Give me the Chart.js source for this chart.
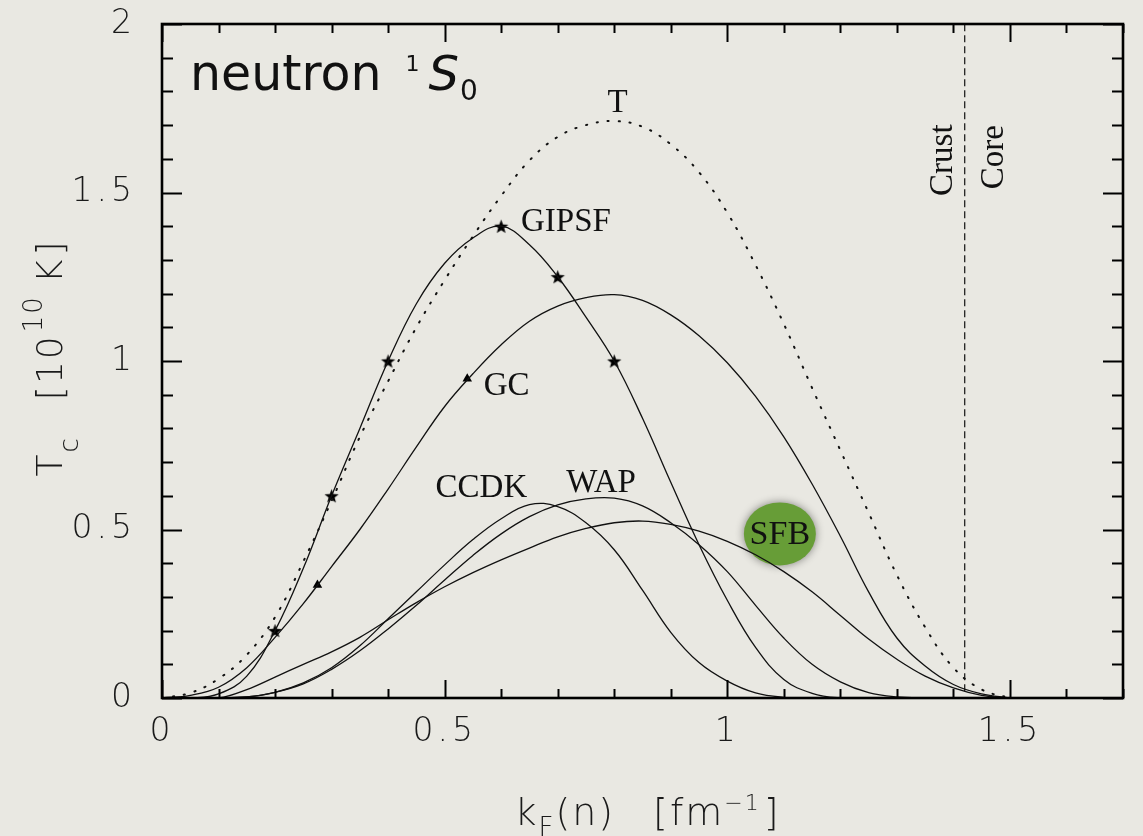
<!DOCTYPE html>
<html>
<head>
<meta charset="utf-8">
<title>neutron 1S0 critical temperature</title>
<script src="https://cdn.jsdelivr.net/npm/chart.js@4.4.1/dist/chart.umd.min.js"></script>
<style>
    html, body { margin: 0; padding: 0; background: #e9e8e2; }
    #wrap { width: 1143px; height: 836px; }
</style>
</head>
<body>
<div id="wrap"><canvas id="gapChart" width="1143" height="836"></canvas></div>
<script>
// Fermi momentum grid [fm^-1]
const kF = [0.00, 0.05, 0.10, 0.15, 0.20, 0.25, 0.30, 0.35, 0.40, 0.45,
            0.50, 0.55, 0.60, 0.65, 0.70, 0.75, 0.80, 0.85, 0.90, 0.95,
            1.00, 1.05, 1.10, 1.15, 1.20, 1.25, 1.30, 1.35, 1.40, 1.45, 1.50];

// Tc [10^10 K] for each gap model
const tcT     = [0, 0.015, 0.057, 0.128, 0.24, 0.405, 0.585, 0.775, 0.94, 1.10,
                 1.24, 1.37, 1.49, 1.595, 1.665, 1.70, 1.712, 1.695, 1.643, 1.56,
                 1.44, 1.285, 1.11, 0.92, 0.735, 0.55, 0.365, 0.21, 0.09, 0.025, 0];
const tcGIPSF = [0, 0, 0.012, 0.065, 0.20, 0.385, 0.60, 0.80, 1.00, 1.17,
                 1.29, 1.365, 1.40, 1.345, 1.25, 1.13, 1.00, 0.83, 0.64, 0.455,
                 0.29, 0.15, 0.055, 0.014, 0, 0, 0, 0, 0, 0, 0];
const tcGC    = [0, 0.008, 0.032, 0.09, 0.18, 0.28, 0.39, 0.50, 0.62, 0.745,
                 0.865, 0.962, 1.048, 1.118, 1.163, 1.188, 1.197, 1.18, 1.137, 1.075,
                 0.995, 0.895, 0.775, 0.635, 0.48, 0.315, 0.178, 0.095, 0.04, 0.012, 0];
const tcCCDK  = [0, 0, 0, 0.003, 0.017, 0.045, 0.09, 0.155, 0.235, 0.315,
                 0.395, 0.47, 0.532, 0.574, 0.568, 0.52, 0.44, 0.32, 0.195, 0.105,
                 0.05, 0.015, 0.002, 0, 0, 0, 0, 0, 0, 0, 0];
const tcWAP   = [0, 0, 0, 0.003, 0.017, 0.042, 0.085, 0.14, 0.205, 0.275,
                 0.35, 0.423, 0.487, 0.538, 0.573, 0.591, 0.593, 0.57, 0.52, 0.455,
                 0.375, 0.275, 0.178, 0.10, 0.048, 0.016, 0.003, 0, 0, 0, 0];
const tcSFB   = [0, 0, 0, 0.025, 0.062, 0.10, 0.137, 0.18, 0.232, 0.283,
                 0.33, 0.372, 0.41, 0.445, 0.478, 0.503, 0.52, 0.525, 0.515, 0.495,
                 0.465, 0.425, 0.375, 0.315, 0.245, 0.175, 0.115, 0.065, 0.03, 0.008, 0];

// marked points on GIPSF (stars) and GC (triangles)
const starK  = [0.2, 0.3, 0.4, 0.6, 0.7, 0.8];
const starTc = [0.2, 0.6, 1.0, 1.4, 1.25, 1.0];
const triK   = [0.275, 0.54];
const triTc  = [0.335, 0.947];

// crust / core boundary
const crustCoreK = 1.42;

const xTickLabels = ['0', '0.5', '1', '1.5'];
const yTickLabels = ['0', '0.5', '1', '1.5', '2'];

const SANS = "'DejaVu Sans', sans-serif";
const SERIF = "'Liberation Serif', 'Times New Roman', serif";
const INK = '#1a1a1a';

function pts(xs, ys) {
    return xs.map((x, i) => ({ x: x, y: ys[i] }));
}

function makeStar(r) {
    const c = document.createElement('canvas');
    const s = Math.ceil(r * 2 + 2);
    c.width = s; c.height = s;
    const g = c.getContext('2d');
    g.translate(s / 2, s / 2 + 0.8);
    g.beginPath();
    for (let i = 0; i < 10; i++) {
        const rad = i % 2 ? r * 0.42 : r;
        const a = -Math.PI / 2 + i * Math.PI / 5;
        g.lineTo(rad * Math.cos(a), rad * Math.sin(a));
    }
    g.closePath();
    g.fillStyle = '#000';
    g.fill();
    return c;
}

function curve(data, extra) {
    return Object.assign({
        data: data,
        showLine: true,
        borderColor: '#111',
        borderWidth: 1.3,
        pointRadius: 0,
        tension: 0.4,
        fill: false
    }, extra || {});
}

// text runs: plain, sub- and superscript pieces laid out one after another
function runFont(r) {
    return `${r.style || ''} ${r.weight || ''} ${r.size}px ${r.family || SANS}`;
}

function runsWidth(ctx, runs) {
    let w = 0;
    runs.forEach(r => {
        ctx.font = runFont(r);
        w += (r.before || 0) + ctx.measureText(r.text).width;
    });
    return w;
}

function drawRuns(ctx, runs, x, y) {
    let cx = x;
    runs.forEach(r => {
        cx += r.before || 0;
        ctx.font = runFont(r);
        ctx.fillText(r.text, cx, y + (r.shift || 0));
        cx += ctx.measureText(r.text).width;
    });
}

// where the model names sit, in data coordinates
const nameSpots = [
    { text: 'T',     k: 0.806, tc: 1.739, align: 'center' },
    { text: 'GIPSF', k: 0.635, tc: 1.385, align: 'left' },
    { text: 'GC',    k: 0.569, tc: 0.899, align: 'left' },
    { text: 'CCDK',  k: 0.484, tc: 0.597, align: 'left' },
    { text: 'WAP',   k: 0.715, tc: 0.612, align: 'left' }
];
const sfbSpot = { k: 1.093, tc: 0.487 };

const badgePlugin = {
    id: 'sfbBadge',
    beforeDraw(chart) {
        // spaced-out thin lettering for the axis numbers
        chart.ctx.letterSpacing = '4px';
    },
    beforeDatasetsDraw(chart) {
        const { ctx, scales: { x, y } } = chart;
        const cx = x.getPixelForValue(sfbSpot.k);
        const cy = y.getPixelForValue(sfbSpot.tc);
        ctx.save();
        ctx.shadowColor = 'rgba(0, 0, 0, 0.45)';
        ctx.shadowBlur = 9;
        ctx.fillStyle = '#679d37';
        ctx.beginPath();
        ctx.ellipse(cx, cy, 36, 31.5, 0, 0, Math.PI * 2);
        ctx.fill();
        ctx.restore();
    }
};

const framePlugin = {
    id: 'frameTicks',
    afterDatasetsDraw(chart) {
        const { ctx, chartArea: a, scales: { x, y } } = chart;
        ctx.save();
        ctx.strokeStyle = '#000';
        ctx.lineWidth = 2;
        ctx.beginPath();
        // inward ticks on all four sides, minor every 0.1
        for (let i = 0; i <= 17; i++) {
            const px = Math.round(x.getPixelForValue(i / 10)) + 0.5;
            const len = i % 5 === 0 ? 18 : 9;
            ctx.moveTo(px, a.bottom); ctx.lineTo(px, a.bottom - len);
            ctx.moveTo(px, a.top); ctx.lineTo(px, a.top + len);
        }
        for (let i = 0; i <= 20; i++) {
            const py = Math.round(y.getPixelForValue(i / 10)) + 0.5;
            const len = i % 5 === 0 ? 20 : 11;
            ctx.moveTo(a.left, py); ctx.lineTo(a.left + len, py);
            ctx.moveTo(a.right, py); ctx.lineTo(a.right - len, py);
        }
        ctx.stroke();
        ctx.lineWidth = 2.6;
        ctx.strokeRect(a.left, a.top, a.right - a.left, a.bottom - a.top);
        ctx.restore();
    },
    afterDraw(chart) {
        const { ctx, chartArea: a, scales: { x, y } } = chart;
        ctx.save();
        ctx.textBaseline = 'alphabetic';

        // panel title
        ctx.letterSpacing = '0px';
        ctx.fillStyle = '#111';
        drawRuns(ctx, [
            { text: 'neutron', size: 49 },
            { text: '1', size: 22, shift: -19, before: 24 },
            { text: 'S', size: 48, style: 'italic', before: 9 },
            { text: '0', size: 28, shift: 10, before: 1 }
        ], a.left + 28, a.top + 66);

        // model names
        ctx.font = `33px ${SERIF}`;
        nameSpots.forEach(s => {
            ctx.textAlign = s.align;
            ctx.fillText(s.text, x.getPixelForValue(s.k), y.getPixelForValue(s.tc));
        });
        ctx.textAlign = 'center';
        ctx.font = `34px ${SERIF}`;
        ctx.fillText('SFB', x.getPixelForValue(sfbSpot.k), y.getPixelForValue(sfbSpot.tc) + 10);

        // crust / core, written upwards on both sides of the boundary
        ctx.font = `33px ${SERIF}`;
        [['Crust', crustCoreK - 0.023, 1.596], ['Core', crustCoreK + 0.067, 1.605]].forEach(([t, k, tc]) => {
            ctx.save();
            ctx.translate(x.getPixelForValue(k), y.getPixelForValue(tc));
            ctx.rotate(-Math.PI / 2);
            ctx.textAlign = 'center';
            ctx.fillText(t, 0, 0);
            ctx.restore();
        });

        // axis titles
        ctx.fillStyle = INK;
        ctx.textAlign = 'left';
        ctx.letterSpacing = '2px';
        const xRuns = [
            { text: 'k', size: 38, weight: 200 },
            { text: 'F', size: 26, weight: 200, shift: 11 },
            { text: '(n)', size: 38, weight: 200 },
            { text: '[fm', size: 38, weight: 200, before: 38 },
            { text: '\u22121', size: 22, weight: 200, shift: -15 },
            { text: ']', size: 38, weight: 200, before: 3 }
        ];
        const xMid = (a.left + a.right) / 2 + 5;
        drawRuns(ctx, xRuns, xMid - runsWidth(ctx, xRuns) / 2, 825);

        const yRuns = [
            { text: 'T', size: 36, weight: 200 },
            { text: 'c', size: 26, weight: 200, shift: 16 },
            { text: '[10', size: 36, weight: 200, before: 36 },
            { text: '10', size: 26, weight: 200, shift: -20, before: 2 },
            { text: 'K', size: 36, weight: 200, before: 12 },
            { text: ']', size: 36, weight: 200, before: 2 }
        ];
        ctx.translate(62, (a.top + a.bottom) / 2 - 3);
        ctx.rotate(-Math.PI / 2);
        drawRuns(ctx, yRuns, -runsWidth(ctx, yRuns) / 2, 0);
        ctx.restore();
    }
};

const tickFont = { family: SANS, size: 33, weight: '200' };

new Chart(document.getElementById('gapChart'), {
    type: 'scatter',
    data: {
        datasets: [
            curve(pts(kF, tcT), { borderWidth: 2, borderDash: [1.2, 9.8], borderCapStyle: 'round' }),
            curve(pts(kF, tcGIPSF)),
            curve(pts(kF, tcGC)),
            curve(pts(kF, tcCCDK)),
            curve(pts(kF, tcWAP)),
            curve(pts(kF, tcSFB)),
            {
                data: [{ x: crustCoreK, y: 0.02 }, { x: crustCoreK, y: 2 }],
                showLine: true,
                borderColor: '#111',
                borderWidth: 1.2,
                borderDash: [7, 4],
                pointRadius: 0
            },
            {
                data: pts(starK, starTc),
                pointStyle: makeStar(7.5),
                pointRadius: 7
            },
            {
                data: pts(triK, triTc),
                pointStyle: 'triangle',
                pointRadius: 5.5,
                backgroundColor: '#000',
                borderColor: '#000',
                borderWidth: 0
            }
        ]
    },
    options: {
        responsive: false,
        animation: false,
        devicePixelRatio: 1,
        layout: { padding: { top: 24, right: 20, left: 0, bottom: 0 } },
        plugins: {
            legend: { display: false },
            tooltip: { enabled: false }
        },
        scales: {
            x: {
                type: 'linear',
                min: 0, max: 1.7,
                grid: { display: false, drawTicks: false },
                border: { display: false },
                afterFit: s => { s.height = 138; s.paddingLeft = 0; s.paddingRight = 0; },
                ticks: {
                    stepSize: 0.5,
                    includeBounds: false,
                    padding: 15,
                    color: INK,
                    font: tickFont,
                    callback: (v, i) => xTickLabels[i]
                }
            },
            y: {
                type: 'linear',
                min: 0, max: 2,
                grid: { display: false, drawTicks: false },
                border: { display: false },
                afterFit: s => { s.width = 162; s.paddingTop = 0; s.paddingBottom = 0; },
                ticks: {
                    stepSize: 0.5,
                    includeBounds: false,
                    padding: 26,
                    color: INK,
                    font: tickFont,
                    callback: (v, i) => yTickLabels[i]
                }
            }
        }
    },
    plugins: [badgePlugin, framePlugin]
});
</script>
</body>
</html>
